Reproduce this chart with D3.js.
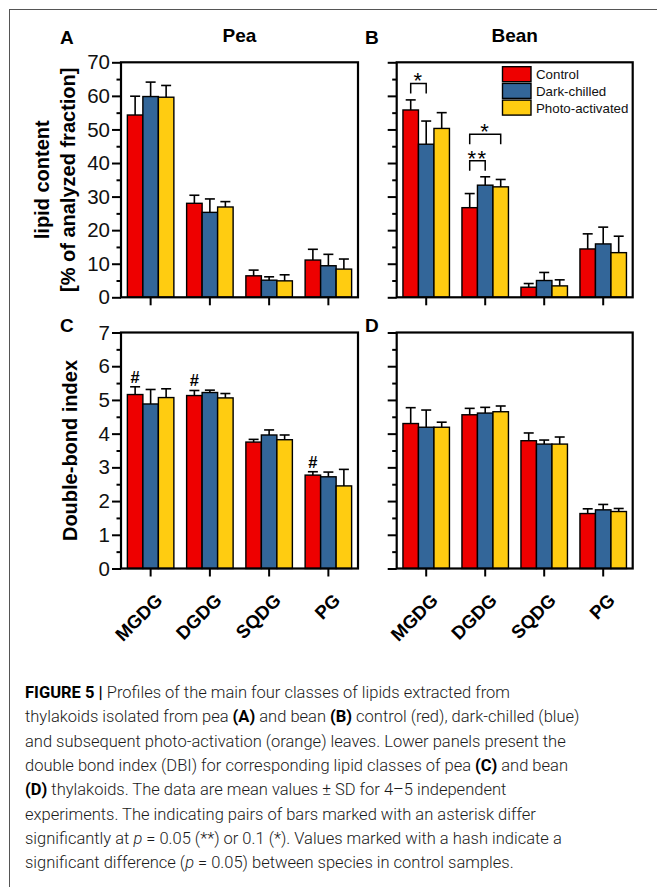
<!DOCTYPE html>
<html>
<head>
<meta charset="utf-8">
<script src="https://cdn.jsdelivr.net/npm/d3@7"></script>
<style>
  body { margin: 0; background: #fff; }
  svg text { font-family: "Liberation Sans", Arial, sans-serif; }
  .cap text { font-family: Roboto, "Liberation Sans", sans-serif; font-weight: 300; }
</style>
</head>
<body>
<svg id="fig" width="657" height="887"></svg>
<script>
// lipid classes on the x axis, and the three treatments
var lipidClasses = ["MGDG", "DGDG", "SQDG", "PG"];
var treatments = ["Control", "Dark-chilled", "Photo-activated"];
var treatColors = ["#ee0000", "#336699", "#ffcc11"];

// lipid content, % of analyzed fraction (rows = lipid class, cols = treatment)
var peaContent   = [[54.3, 59.8, 59.6], [28.0, 25.3, 26.9], [6.4, 5.1, 4.9], [11.1, 9.4, 8.4]];
var peaContentSD = [[5.6, 4.3, 3.5], [2.4, 4.0, 1.6], [1.7, 1.0, 1.8], [3.2, 3.4, 3.0]];
var beanContent   = [[55.8, 45.6, 50.3], [26.7, 33.4, 32.9], [3.0, 5.0, 3.4], [14.4, 15.9, 13.3]];
var beanContentSD = [[3.0, 6.9, 4.7], [4.2, 2.5, 2.2], [1.1, 2.4, 1.8], [4.5, 5.0, 4.9]];

// double bond index
var peaDBI   = [[5.16, 4.88, 5.07], [5.13, 5.22, 5.06], [3.75, 3.96, 3.82], [2.77, 2.72, 2.45]];
var peaDBISD = [[0.23, 0.43, 0.26], [0.15, 0.07, 0.13], [0.08, 0.15, 0.14], [0.10, 0.14, 0.49]];
var beanDBI   = [[4.30, 4.19, 4.19], [4.56, 4.61, 4.65], [3.79, 3.69, 3.69], [1.63, 1.74, 1.69]];
var beanDBISD = [[0.47, 0.51, 0.15], [0.19, 0.17, 0.17], [0.23, 0.12, 0.21], [0.14, 0.16, 0.09]];

// tick values
var contentTicks = [0, 10, 20, 30, 40, 50, 60, 70];
var contentMinor = [5, 15, 25, 35, 45, 55, 65];
var dbiTicks = [0, 1, 2, 3, 4, 5, 6, 7];
var dbiMinor = [0.5, 1.5, 2.5, 3.5, 4.5, 5.5, 6.5];

// significance brackets in panel B: [class, bar from, bar to, height, label]
var beanBrackets = [["MGDG", 0, 1, 63.7, "*"], ["DGDG", 0, 1, 40.7, "**"], ["DGDG", 0, 2, 48.6, "*"]];
// hashes (species difference in control) in panel C
var peaHashes = ["MGDG", "DGDG", "PG"];

var captionLines = [
  [["b", "FIGURE 5 | "], ["", "Profiles of the main four classes of lipids extracted from"]],
  [["", "thylakoids isolated from pea "], ["b", "(A)"], ["", " and bean "], ["b", "(B)"], ["", " control (red), dark-chilled (blue)"]],
  [["", "and subsequent photo-activation (orange) leaves. Lower panels present the"]],
  [["", "double bond index (DBI) for corresponding lipid classes of pea "], ["b", "(C)"], ["", " and bean"]],
  [["b", "(D)"], ["", " thylakoids. The data are mean values \u00b1 SD for 4\u20135 independent"]],
  [["", "experiments. The indicating pairs of bars marked with an asterisk differ"]],
  [["", "significantly at "], ["i", "p"], ["", " = 0.05 (**) or 0.1 (*). Values marked with a hash indicate a"]],
  [["", "significant difference ("], ["i", "p"], ["", " = 0.05) between species in control samples."]]
];

var svg = d3.select("#fig");

// outer frame of the figure
svg.append("rect")
  .attr("x", 9.5).attr("y", 9.5)
  .attr("width", 700).attr("height", 900)
  .attr("fill", "none").attr("stroke", "#555").attr("stroke-width", 1);

var colL = {left: 121, right: 358, letterX: 60};
var colR = {left: 396.7, right: 632.7, letterX: 365};
var rowT = {top: 62.3, bottom: 297.3, letterY: 44};
var rowB = {top: 332.5, bottom: 568.5, letterY: 331.5};

var panels = [
  {id: "A", col: colL, row: rowT, vals: peaContent, sd: peaContentSD, max: 70, ticks: contentTicks, minor: contentMinor, labels: true, xlabels: false, title: "Pea"},
  {id: "B", col: colR, row: rowT, vals: beanContent, sd: beanContentSD, max: 70, ticks: contentTicks, minor: contentMinor, labels: false, xlabels: false, title: "Bean"},
  {id: "C", col: colL, row: rowB, vals: peaDBI, sd: peaDBISD, max: 7, ticks: dbiTicks, minor: dbiMinor, labels: true, xlabels: true},
  {id: "D", col: colR, row: rowB, vals: beanDBI, sd: beanDBISD, max: 7, ticks: dbiTicks, minor: dbiMinor, labels: false, xlabels: true}
];

var barW = 15.5;
var inner = d3.scaleBand().domain([0, 1, 2]).range([-1.5 * barW, 1.5 * barW]);

panels.forEach(function(P){

  var x = d3.scaleBand().domain(lipidClasses).range([P.col.left, P.col.right]);
  var y = d3.scaleLinear().domain([0, P.max]).range([P.row.bottom, P.row.top]);
  P.x = x; P.y = y;

  var g = svg.append("g").attr("class", "panel-" + P.id);

  // flatten to one record per bar
  var bars = [];
  lipidClasses.forEach(function(c, i){
    treatments.forEach(function(t, j){
      bars.push({cls: c, t: j, v: P.vals[i][j], sd: P.sd[i][j]});
    });
  });

  g.selectAll("rect.bar").data(bars).enter()
    .append("rect").attr("class", "bar")
    .attr("x", function(d){ return x(d.cls) + x.bandwidth()/2 + inner(d.t); })
    .attr("width", inner.bandwidth())
    .attr("y", function(d){ return y(d.v); })
    .attr("height", function(d){ return y(0) - y(d.v); })
    .attr("fill", function(d){ return treatColors[d.t]; })
    .attr("stroke", "#000").attr("stroke-width", 1.4);

  // error bars, upper half only
  var bx = function(d){ return x(d.cls) + x.bandwidth()/2 + inner(d.t) + inner.bandwidth()/2; };
  g.selectAll("line.err").data(bars).enter()
    .append("line").attr("class", "err")
    .attr("x1", bx).attr("x2", bx)
    .attr("y1", function(d){ return y(d.v); })
    .attr("y2", function(d){ return y(d.v + d.sd); })
    .attr("stroke", "#000").attr("stroke-width", 1.6);
  g.selectAll("line.cap").data(bars).enter()
    .append("line").attr("class", "cap")
    .attr("x1", function(d){ return bx(d) - 5; })
    .attr("x2", function(d){ return bx(d) + 5; })
    .attr("y1", function(d){ return y(d.v + d.sd); })
    .attr("y2", function(d){ return y(d.v + d.sd); })
    .attr("stroke", "#000").attr("stroke-width", 1.6);

  // y axis: major + minor ticks
  var yAx = g.append("g").attr("transform", "translate(" + P.col.left + ",0)")
    .call(d3.axisLeft(y).tickValues(P.ticks).tickSize(9).tickPadding(2)
      .tickFormat(P.labels ? d3.format("d") : function(){ return ""; }));
  yAx.select(".domain").remove();
  yAx.selectAll("line").attr("stroke-width", 2);
  yAx.selectAll("text").attr("font-size", 20.5).attr("fill", "#111")
    .attr("font-family", "Liberation Sans, Arial, sans-serif");
  var yMin = g.append("g").attr("transform", "translate(" + P.col.left + ",0)")
    .call(d3.axisLeft(y).tickValues(P.minor).tickSize(4.5).tickFormat(""));
  yMin.select(".domain").remove();
  yMin.selectAll("line").attr("stroke-width", 2);

  // x axis ticks
  var xAx = g.append("g").attr("transform", "translate(0," + P.row.bottom + ")")
    .call(d3.axisBottom(x).tickSize(8).tickFormat(""));
  xAx.select(".domain").remove();
  xAx.selectAll("line").attr("stroke-width", 2);

  // frame
  g.append("rect")
    .attr("x", P.col.left).attr("y", P.row.top)
    .attr("width", P.col.right - P.col.left).attr("height", P.row.bottom - P.row.top)
    .attr("fill", "none").attr("stroke", "#000").attr("stroke-width", 2.2);

  if(P.xlabels){
    g.selectAll("text.xl").data(lipidClasses).enter()
      .append("text").attr("class", "xl")
      .attr("transform", function(d){
        return "translate(" + (x(d) + x.bandwidth()/2 + 13) + "," + (P.row.bottom + 33) + ") rotate(-45)";
      })
      .attr("text-anchor", "end")
      .attr("font-size", 18.5).attr("font-weight", "bold")
      .text(function(d){ return d; });
  }

  // panel letter
  g.append("text")
    .attr("x", P.col.letterX)
    .attr("y", P.row.letterY)
    .attr("font-size", 19).attr("font-weight", "bold")
    .text(P.id);

  if(P.title){
    g.append("text")
      .attr("x", (P.col.left + P.col.right)/2).attr("y", 41.7)
      .attr("text-anchor", "middle")
      .attr("font-size", 19).attr("font-weight", "bold")
      .text(P.title);
  }
});

// y axis titles
svg.append("text")
  .attr("transform", "translate(49," + (rowT.top + rowT.bottom)/2 + ") rotate(-90)")
  .attr("text-anchor", "middle").attr("font-size", 20).attr("font-weight", "bold")
  .text("lipid content");
svg.append("text")
  .attr("transform", "translate(75," + (rowT.top + rowT.bottom)/2 + ") rotate(-90)")
  .attr("text-anchor", "middle").attr("font-size", 20).attr("font-weight", "bold")
  .text("[% of analyzed fraction]");
svg.append("text")
  .attr("transform", "translate(76.5," + (rowB.top + rowB.bottom)/2 + ") rotate(-90)")
  .attr("text-anchor", "middle").attr("font-size", 20).attr("font-weight", "bold")
  .text("Double-bond index");

// legend, top right of panel B
var PB = panels[1];
var leg = svg.append("g").attr("class", "legend");
treatments.forEach(function(t, j){
  var ly = 66.7 + j * 16.7;
  leg.append("rect")
    .attr("x", 502.5).attr("y", ly)
    .attr("width", 28.5).attr("height", 15)
    .attr("fill", treatColors[j]).attr("stroke", "#000").attr("stroke-width", 1.4);
  leg.append("text")
    .attr("x", 536).attr("y", ly + 12.5)
    .attr("font-size", 13.3).attr("fill", "#111")
    .text(t);
});

// significance brackets on panel B
beanBrackets.forEach(function(b){
  var x = PB.x, y = PB.y;
  var c0 = x(b[0]) + x.bandwidth()/2 + inner(b[1]) + inner.bandwidth()/2;
  var c1 = x(b[0]) + x.bandwidth()/2 + inner(b[2]) + inner.bandwidth()/2;
  var top = y(b[3]);
  svg.append("path")
    .attr("d", "M" + c0 + "," + (top + 10) + "V" + top + "H" + c1 + "V" + (top + 10))
    .attr("fill", "none").attr("stroke", "#000").attr("stroke-width", 1.5);
  svg.append("text")
    .attr("x", (c0 + c1)/2).attr("y", top + 5)
    .attr("text-anchor", "middle").attr("font-size", 22)
    .attr("letter-spacing", 1.5)
    .text(b[4]);
});

// hashes on panel C control bars
var PC = panels[2];
peaHashes.forEach(function(c){
  var i = lipidClasses.indexOf(c);
  var cx = PC.x(c) + PC.x.bandwidth()/2 + inner(0) + inner.bandwidth()/2;
  svg.append("text")
    .attr("x", cx).attr("y", PC.y(peaDBI[i][0] + peaDBISD[i][0]) - 4)
    .attr("text-anchor", "middle").attr("font-size", 16.5).attr("font-weight", "bold")
    .text("#");
});

// caption
var cap = svg.append("g").attr("class", "cap");
captionLines.forEach(function(line, k){
  var t = cap.append("text")
    .attr("x", 25).attr("y", 698 + k * 24.3)
    .attr("font-size", 16.5).attr("fill", "#1a1a1a");
  line.forEach(function(seg){
    var s = t.append("tspan").text(seg[1]);
    if(seg[0] == "b") s.attr("font-weight", 700).attr("fill", "#000");
    if(seg[0] == "i") s.attr("font-style", "italic");
  });
});
</script>
</body>
</html>
